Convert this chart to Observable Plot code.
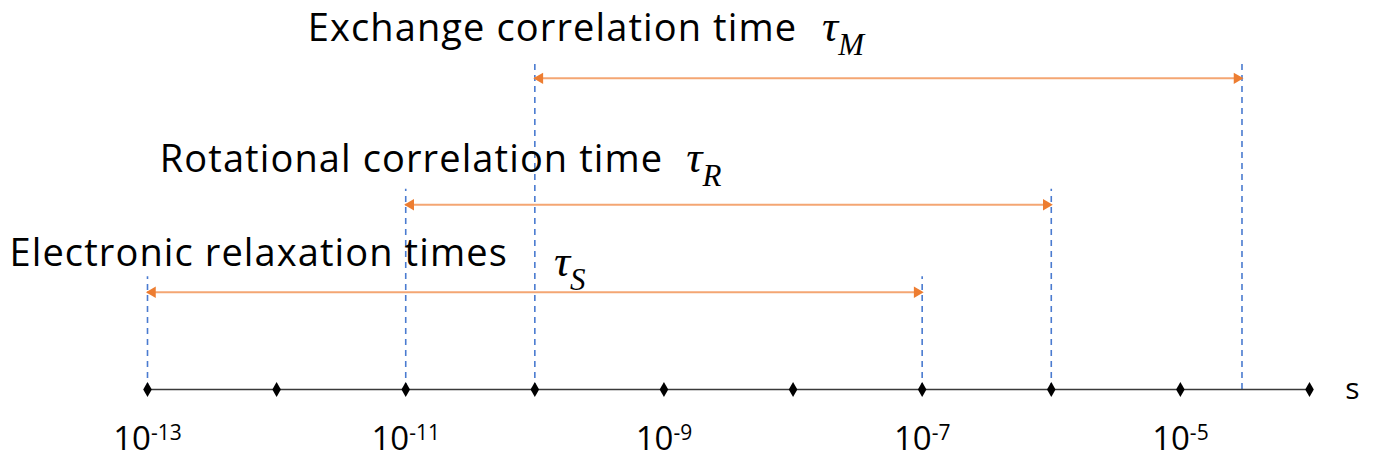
<!DOCTYPE html>
<html><head><meta charset="utf-8">
<script src="https://cdn.jsdelivr.net/npm/d3@7"></script>
<script src="https://cdn.jsdelivr.net/npm/@observablehq/plot@0.6"></script>
<style>body{margin:0;background:#fff;} svg{display:block}</style>
</head><body><div id="chart"></div>
<script>
// ---- data ----
const tickExponents = [-13, -12, -11, -10, -9, -8, -7, -6, -5, -4];
const labeledExponents = [-13, -11, -9, -7, -5];
const unitLabel = "s";
const seriesNames = ["Electronic relaxation times", "Rotational correlation time", "Exchange correlation time"];
const seriesSymbols = ["S", "R", "M"];
const rangeStart = [1e-13, 1e-11, 1e-10];
const rangeEnd = [1e-7, 1e-6, 3e-5];
const rowLevel = [1, 1.9, 3.2];

const series = seriesNames.map((name, i) => ({
  name, sym: seriesSymbols[i], start: rangeStart[i], end: rangeEnd[i], level: rowLevel[i]
}));
const ticks = tickExponents.map(e => Math.pow(10, e));
const xMin = ticks[0], xMax = ticks[ticks.length - 1];

const FONT = "'Open Sans', 'Noto Sans', sans-serif";
const blue = "#4A7BD0", orange = "#ED7D31", shaft = "#F4A673";

const labelOffsets = [ // per series: dx,dy of label relative to arrow start
  {dx: -138, dy: -38},
  {dx: -246, dy: -45},
  {dx: -227, dy: -49}
];

const labelMarks = series.map((s, i) => Plot.text([s], {
  x: "start", y: "level", text: d => d.name + "|" + d.sym,
  textAnchor: "start", dx: labelOffsets[i].dx, dy: labelOffsets[i].dy,
  fontSize: 37, fill: "black"
}));

const plot = Plot.plot({
  width: 1373, height: 458,
  marginLeft: 147, marginRight: 64, marginTop: 0, marginBottom: 69,
  x: {type: "log", domain: [xMin, xMax], axis: null},
  y: {domain: [0, 4], axis: null},
  style: {fontFamily: FONT, background: "white", overflow: "visible"},
  marks: [
    Plot.ruleX(series, {x: "start", y1: () => 0, y2: d => d.level + 0.16, stroke: blue, strokeWidth: 1.6, strokeDasharray: "6,5"}),
    Plot.ruleX(series, {x: "end", y1: () => 0, y2: d => d.level + 0.16, stroke: blue, strokeWidth: 1.6, strokeDasharray: "6,5"}),
    Plot.ruleY([0], {x1: () => xMin, x2: () => xMax, stroke: "#3a3a3a", strokeWidth: 1.5}),
    Plot.dot(ticks, {x: d => d, y: () => 0, symbol: "diamond", fill: "black", r: 4.5}),
    Plot.ruleY(series, {y: "level", x1: "start", x2: "end", stroke: shaft, strokeWidth: 2}),
    Plot.dot(series, {x: "end", y: "level", symbol: "triangle", rotate: 90, fill: orange, r: 4.2, dx: -5}),
    Plot.dot(series, {x: "start", y: "level", symbol: "triangle", rotate: -90, fill: orange, r: 4.2, dx: 5}),
    Plot.text(labeledExponents, {x: e => Math.pow(10, e), y: () => 0, dy: 50, text: e => "10^" + e, fontSize: 33, fill: "black"}),
    Plot.text([unitLabel], {x: () => xMax, y: () => 0, dx: 43, text: d => d, fontSize: 30, fill: "black"}),
    ...labelMarks
  ]
});

// post-process: superscripts and subscripts as real text tspans
const gaps = {S: {dx: 46, dy: 10}, R: {dx: 23, dy: 0}, M: {dx: 25, dy: 0}};
d3.select(plot).selectAll("text").each(function() {
  const t = d3.select(this);
  const s = this.textContent;
  let m;
  if ((m = s.match(/^10\^(-?\d+)$/))) {
    t.text(null);
    t.append("tspan").text("10");
    t.append("tspan").attr("dy", "-0.5em").attr("font-size", "21px").text(m[1]);
  } else if (s.includes("|")) {
    const [name, sym] = s.split("|");
    const g = gaps[sym];
    t.text(null);
    t.append("tspan").attr("font-size", "38px").attr("letter-spacing", "1.1px").text(name);
    t.append("tspan").attr("dx", g.dx).attr("dy", g.dy)
      .attr("font-family", "'Liberation Serif', 'DejaVu Serif', serif")
      .attr("font-style", "italic").attr("font-size", "45px").text("τ");
    t.append("tspan").attr("dy", 14)
      .attr("font-family", "'Liberation Serif', 'DejaVu Serif', serif")
      .attr("font-style", "italic").attr("font-size", "31px").text(sym);
  }
});
document.getElementById("chart").appendChild(plot);
</script>
</body></html>
